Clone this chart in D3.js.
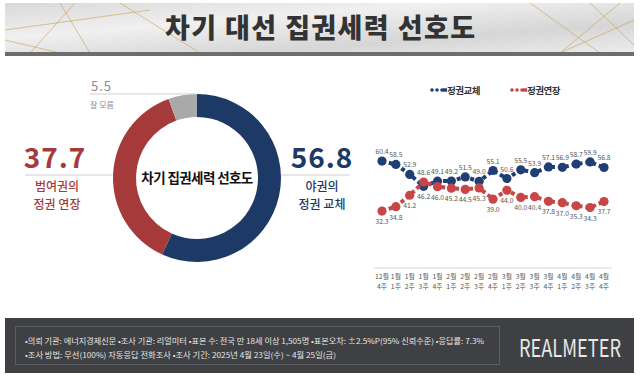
<!DOCTYPE html>
<html><head><meta charset="utf-8">
<script src="https://cdn.jsdelivr.net/npm/d3@7"></script>
<style>body{margin:0;background:#fff}svg{display:block}text{font-family:"Noto Sans CJK KR","Noto Sans",sans-serif}</style>
</head><body><svg id="c" width="640" height="383"></svg>
<script>
const donutLabels = ["야권의 정권 교체","범여권의 정권 연장","잘 모름"];
const donutValues = [56.8, 37.7, 5.5];
const weeks = ["12월|4주","1월|1주","1월|2주","1월|3주","1월|4주","2월|1주","2월|2주","2월|3주","2월|4주","3월|1주","3월|2주","3월|3주","3월|4주","4월|1주","4월|2주","4월|3주","4월|4주"];
const changeSeries = [60.4,58.5,52.9,46.2,49.1,49.2,51.5,49.0,55.1,50.6,55.5,53.9,57.1,56.9,58.7,59.9,56.8];
const extendSeries = [32.3,34.8,41.2,48.6,46.0,45.2,44.5,45.3,39.0,44.0,40.0,40.4,37.8,37.0,35.3,34.3,37.7];
const seriesNames = ["정권교체","정권연장"];

const svg = d3.select("#c");
const NAVY="#1d3a66", RED="#a63a3a", GRAY="#a9a9a9";

// ---- Title banner ----
const defs = svg.append("defs");
const g1 = defs.append("linearGradient").attr("id","bg").attr("x1","0").attr("x2","1").attr("y1","0").attr("y2","1");
g1.append("stop").attr("offset","0").attr("stop-color","#d9d9d9");
g1.append("stop").attr("offset","0.35").attr("stop-color","#f0f0f0");
g1.append("stop").attr("offset","0.7").attr("stop-color","#d6d6d6");
g1.append("stop").attr("offset","1").attr("stop-color","#ececec");
svg.append("rect").attr("x",5).attr("y",3).attr("width",629).attr("height",50).attr("fill","url(#bg)");
const gold = [[30,53,75,3],[60,3,90,53],[5,40,60,53],[120,3,200,53],[150,10,5,30],[560,53,620,3],[530,3,600,53],[634,20,560,53],[590,3,634,45]];
svg.append("g").selectAll("line").data(gold).join("line")
  .attr("x1",d=>d[0]).attr("y1",d=>d[1]).attr("x2",d=>d[2]).attr("y2",d=>d[3])
  .attr("stroke","#c9a75a").attr("stroke-width",0.8).attr("opacity",0.8);
svg.append("rect").attr("x",5).attr("y",52).attr("width",629).attr("height",4).attr("fill","#6d6d6d");
svg.append("text").attr("x",320).attr("y",38).attr("text-anchor","middle")
  .attr("font-size",27).attr("font-weight",900).attr("fill","#333")
  .attr("textLength",310).attr("lengthAdjust","spacing")
  .text("차기 대선 집권세력 선호도");

// ---- Donut ----
const cx=197, cy=178;
const pie = d3.pie().sort(null).value(d=>d)(donutValues);
const arc = d3.arc().innerRadius(61).outerRadius(84);
const dg = svg.append("g").attr("transform",`translate(${cx},${cy})`);
dg.selectAll("path").data(pie).join("path").attr("d",arc).attr("fill",(d,i)=>[NAVY,RED,GRAY][i]);
svg.append("text").attr("x",cx).attr("y",cy+5).attr("text-anchor","middle")
  .attr("font-size",13.5).attr("font-weight",700).attr("fill","#111").attr("letter-spacing",-0.6)
  .text("차기 집권세력 선호도");

// side lines
svg.append("line").attr("x1",25).attr("x2",cx-84).attr("y1",175).attr("y2",175).attr("stroke","#cfcfcf");
svg.append("line").attr("x1",cx+84).attr("x2",350).attr("y1",175).attr("y2",175).attr("stroke","#cfcfcf");
svg.append("line").attr("x1",90).attr("x2",cx).attr("y1",94).attr("y2",94).attr("stroke","#cfcfcf");

// left
svg.append("text").attr("x",55).attr("y",168).attr("text-anchor","middle").attr("font-size",28).attr("font-weight",700).attr("fill",RED).attr("font-family","'Noto Sans',sans-serif").attr("letter-spacing",1).text(donutValues[1].toFixed(1));
svg.append("text").attr("x",57).attr("y",191).attr("text-anchor","middle").attr("font-size",12).attr("font-weight",500).attr("fill",RED).text("범여권의");
svg.append("text").attr("x",57).attr("y",209).attr("text-anchor","middle").attr("font-size",12).attr("font-weight",500).attr("fill",RED).text("정권 연장");
// right
svg.append("text").attr("x",322).attr("y",168).attr("text-anchor","middle").attr("font-size",28).attr("font-weight",700).attr("fill",NAVY).attr("font-family","'Noto Sans',sans-serif").attr("letter-spacing",1).text(donutValues[0].toFixed(1));
svg.append("text").attr("x",322).attr("y",191).attr("text-anchor","middle").attr("font-size",12).attr("font-weight",500).attr("fill",NAVY).text("야권의");
svg.append("text").attr("x",322).attr("y",209).attr("text-anchor","middle").attr("font-size",12).attr("font-weight",500).attr("fill",NAVY).text("정권 교체");
// top
svg.append("text").attr("x",91).attr("y",91).attr("font-size",13).attr("fill","#8a8a8a").attr("font-family","'Noto Sans',sans-serif").attr("letter-spacing",1).text(donutValues[2].toFixed(1));
svg.append("text").attr("x",90).attr("y",108).attr("font-size",8).attr("fill","#8a8a8a").text("잘 모름");

// ---- Line chart ----
const x = d3.scalePoint().domain(weeks).range([382,604]);
const y = d3.scaleLinear().domain([2,70]).range([265,144]);
const axisY = 268;
const ax = svg.append("g").attr("transform",`translate(0,${axisY})`)
  .call(d3.axisBottom(x).tickSize(0).tickFormat(""));
ax.select(".domain").attr("stroke","#d8d8d8").attr("d","M374,0H612");
const tl = svg.append("g").selectAll("text").data(weeks).join("text")
  .attr("x",d=>x(d)).attr("y",279).attr("text-anchor","middle").attr("font-size",6.8).attr("fill","#555");
tl.append("tspan").attr("x",d=>x(d)).text(d=>d.split("|")[0]);
tl.append("tspan").attr("x",d=>x(d)).attr("dy",10).text(d=>d.split("|")[1]);

const series = [
  {name:seriesNames[0], vals:changeSeries, color:"#1f3f74"},
  {name:seriesNames[1], vals:extendSeries, color:"#c84646"}
];
const line = d3.line().x((d,i)=>x(weeks[i])).y(d=>y(d));
series.forEach((s,si)=>{
  const other = series[1-si].vals;
  svg.append("path").attr("d",line(s.vals)).attr("fill","none").attr("stroke",s.color)
    .attr("stroke-width",4).attr("stroke-dasharray","4,3");
  svg.append("g").selectAll("circle").data(s.vals).join("circle")
    .attr("cx",(d,i)=>x(weeks[i])).attr("cy",d=>y(d)).attr("r",4.6).attr("fill",s.color);
  svg.append("g").selectAll("text").data(s.vals).join("text")
    .attr("x",(d,i)=>x(weeks[i]))
    .attr("y",(d,i)=> d>=other[i] ? y(d)-7 : y(d)+13)
    .attr("text-anchor","middle").attr("font-size",6.8).attr("fill","#555")
    .attr("font-family","'Noto Sans',sans-serif")
    .text(d=>d.toFixed(1));
});
// legend
const lg = [[431,seriesNames[0],"#1f3f74"],[511,seriesNames[1],"#c84646"]];
lg.forEach(([lx,name,col])=>{
  const g = svg.append("g");
  [0,5,10].forEach(o=>g.append("circle").attr("cx",lx+o+1).attr("cy",90).attr("r",1.8).attr("fill",col));
  g.append("rect").attr("x",lx+12).attr("y",88.3).attr("width",4).attr("height",3.4).attr("fill",col);
  g.append("text").attr("x",lx+16).attr("y",93.5).attr("font-size",9.5).attr("font-weight",700).attr("fill","#333").attr("letter-spacing",-0.5).text(name);
});

// ---- Footer ----
svg.append("rect").attr("x",5).attr("y",318).attr("width",629).attr("height",55).attr("fill","#3f4043");
svg.append("rect").attr("x",15.5).attr("y",326.5).attr("width",484).attr("height",38).attr("fill","none").attr("stroke","#5c5d60");
svg.append("text").attr("x",25).attr("y",344).attr("font-size",7.6).attr("fill","#e6e6e6")
  .attr("textLength",459).attr("lengthAdjust","spacingAndGlyphs")
  .text("•의뢰 기관: 에너지경제신문 •조사 기관: 리얼미터 •표본 수: 전국 만 18세 이상 1,505명 •표본오차: ±2.5%P(95% 신뢰수준) •응답률: 7.3%");
svg.append("text").attr("x",25).attr("y",358).attr("font-size",7.6).attr("fill","#e6e6e6")
  .attr("textLength",311).attr("lengthAdjust","spacingAndGlyphs")
  .text("•조사 방법: 무선(100%) 자동응답 전화조사 •조사 기간: 2025년 4월 23일(수) ~ 4월 25일(금)");
svg.append("text").attr("transform","translate(519,357) scale(1,1.35)").attr("font-size",18).attr("fill","#e8e8e8")
  .attr("font-family","'DejaVu Sans Condensed','Liberation Sans Narrow',sans-serif")
  .attr("textLength",102).attr("lengthAdjust","spacingAndGlyphs").text("REALMETER");
</script></body></html>
